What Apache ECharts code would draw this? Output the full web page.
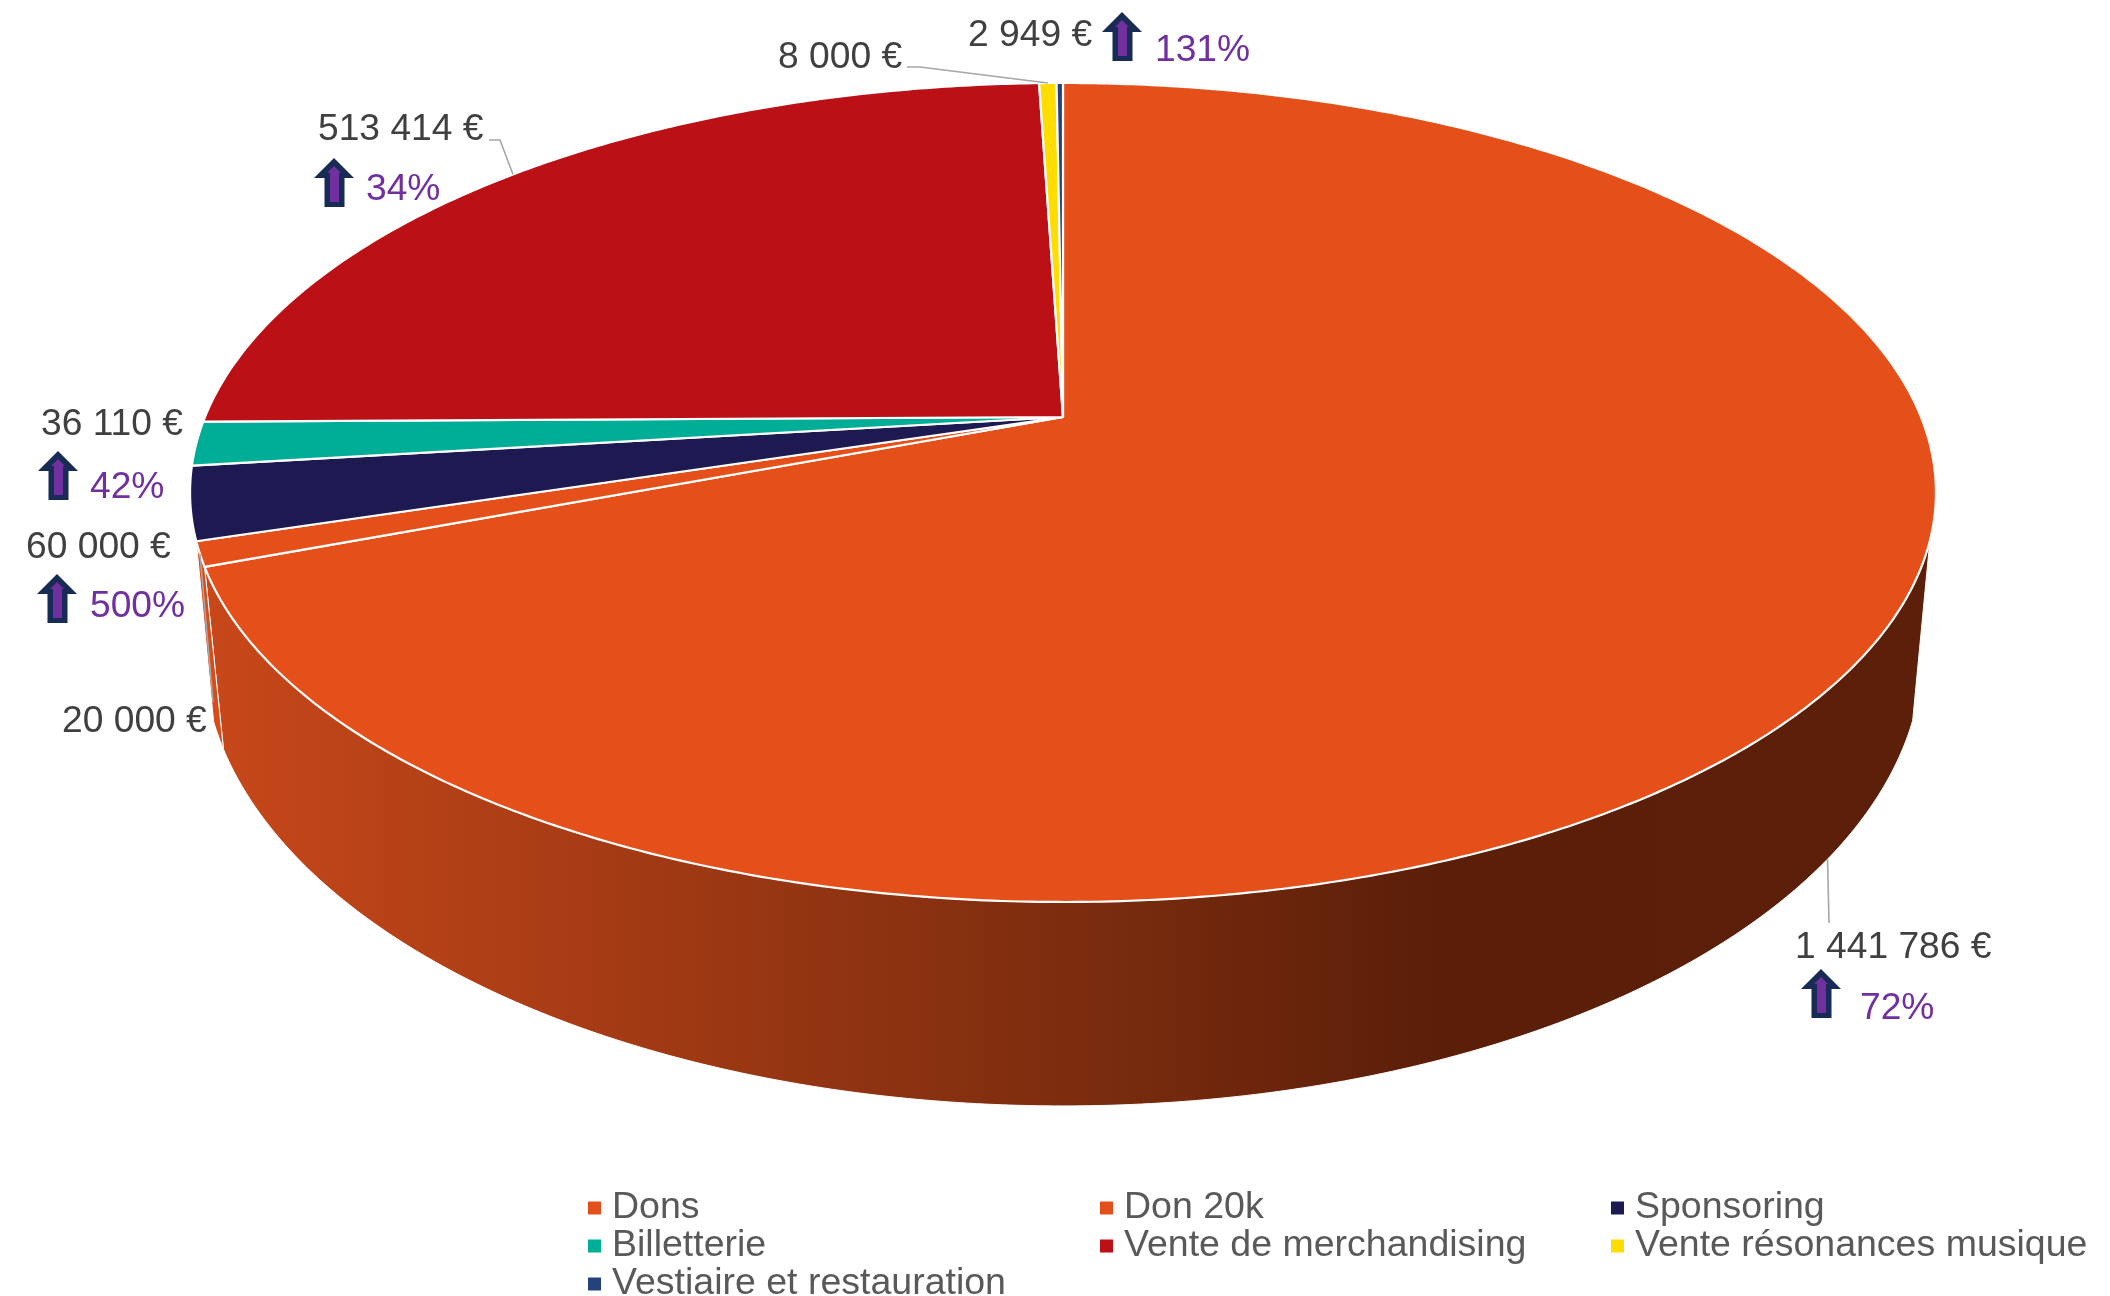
<html>

<head>
    <meta charset="utf-8">
    <script src="https://cdn.jsdelivr.net/npm/echarts@6/dist/echarts.min.js"></script>

    <style>
        html, body {
            margin: 0;
            height: 100%;
            background: #fff;
        }
        #chart {
            width: 100%;
            height: 100%;
        }
    </style>
</head>

<body>
    <div id="chart"></div>

    <script>
        const categories = ['Dons', 'Don 20k', 'Sponsoring', 'Billetterie', 'Vente de merchandising', 'Vente résonances musique', 'Vestiaire et restauration'];
        const amounts = [1441786, 20000, 60000, 36110, 513414, 8000, 2949];
        const growth = ['72%', null, '500%', '42%', '34%', null, '131%'];
        const sliceColors = ['#E5501A', '#E5501A', '#1D1A52', '#00AE98', '#BB1116', '#FFDD00', '#24437C'];

        // perspective of the two discs, fitted on the picture
        const FONT = 'Liberation Sans, Arial, sans-serif';
        const topDisc = { x: 1063, y: 417, a: 858, b: 395.6, k: 0.1843 };
        const bottomDisc = { x: 1063, y: 583, a: 850, b: 444.5, k: 0.15 };
        const WALL_FROM = 107.2;
        const WALL_TO = 252.7;

        const labelSpots = [
            { value: [1795, 958], arrow: [1801, 969], pct: [1860, 1019] },
            { value: [62, 732] },
            { value: [26, 558], arrow: [37, 574], pct: [90, 617] },
            { value: [41, 435], arrow: [38, 451], pct: [90, 498] },
            { value: [318, 140], arrow: [314, 158], pct: [366, 200] },
            { value: [778, 68] },
            { value: [968, 46], arrow: [1102, 12], pct: [1155, 61] }
        ];
        const leaders = [
            { disc: bottomDisc, via: [[1829, 923]] },
            { disc: topDisc, via: [[213, 702]] },
            null,
            null,
            { disc: topDisc, via: [[489, 140], [500, 140]] },
            { disc: topDisc, via: [[907, 67], [920, 67]] },
            null
        ];

        const total = amounts.reduce((a, b) => a + b, 0);
        const project = (disc, deg) => {
            const t = deg * Math.PI / 180;
            const u = Math.sin(t);
            const v = Math.cos(t);
            const w = 1 + disc.k * v;
            return [disc.x + disc.a * u / w, disc.y - disc.b * v / w];
        };
        const arc = (disc, from, to) => {
            const n = Math.max(2, Math.ceil(Math.abs(to - from) * 2));
            const pts = [];
            for (let i = 0; i <= n; i++) {
                pts.push(project(disc, from + (to - from) * i / n));
            }
            return pts;
        };
        const angleRange = (idx) => {
            const before = amounts.slice(0, idx).reduce((a, b) => a + b, 0);
            return [before / total * 360, (before + amounts[idx]) / total * 360];
        };
        const money = (v) => String(v).replace(/\B(?=(\d{3})+$)/g, ' ') + ' €';
        const textEl = (x, baseline, text, fill) => ({
            type: 'text',
            z2: 50,
            style: { x: x, y: baseline - 10.5, text: text, fill: fill, font: '37.2px ' + FONT, align: 'left', verticalAlign: 'middle' }
        });
        const arrowEls = (x, y) => [
            {
                type: 'polygon',
                z2: 40,
                shape: { points: [[x + 20, y], [x + 40, y + 20], [x + 30.5, y + 20], [x + 30.5, y + 49], [x + 10.5, y + 49], [x + 10.5, y + 20], [x, y + 20]] },
                style: { fill: '#172B55' }
            },
            {
                type: 'polygon',
                z2: 41,
                shape: { points: [[x + 20, y + 8], [x + 27, y + 15], [x + 25, y + 15], [x + 25, y + 44], [x + 16, y + 44], [x + 16, y + 15], [x + 13, y + 15]] },
                style: { fill: '#7030A0' }
            }
        ];
        const wallFill = (idx) => ({
            type: 'linear',
            global: true,
            x: 190, y: 0, x2: 1935, y2: 0,
            colorStops: [
                { offset: 0, color: idx === 1 ? '#DC4C19' : '#C9481A' },
                { offset: 0.52, color: '#7A2C0E' },
                { offset: 0.72, color: '#5A1E09' },
                { offset: 1, color: '#5B1F0A' }
            ]
        });

        const renderSlice = (params, api) => {
            const idx = params.seriesIndex;
            const [from, to] = angleRange(idx);
            const value = api.value(0);
            const children = [];

            // side of the cake, only the part facing the viewer
            const wallA = Math.max(from, WALL_FROM);
            const wallB = Math.min(to, WALL_TO);
            if (wallB - wallA > 0.1) {
                children.push({
                    type: 'polygon',
                    z2: 1,
                    shape: { points: arc(topDisc, wallA, wallB).concat(arc(bottomDisc, wallB, wallA)) },
                    style: { fill: wallFill(idx), stroke: '#fff', lineWidth: 1 }
                });
            }

            // top face
            children.push({
                type: 'polygon',
                z2: 10,
                shape: { points: [[topDisc.x, topDisc.y]].concat(arc(topDisc, from, to)) },
                style: { fill: sliceColors[idx], stroke: '#fff', lineWidth: 2.2, lineJoin: 'round' }
            });

            const spot = labelSpots[idx];
            children.push(textEl(spot.value[0], spot.value[1], money(value), '#404040'));
            if (spot.arrow) {
                children.push(...arrowEls(spot.arrow[0], spot.arrow[1]));
                children.push(textEl(spot.pct[0], spot.pct[1], growth[idx], '#7030A0'));
            }

            const leader = leaders[idx];
            if (leader) {
                children.push({
                    type: 'polyline',
                    z2: 30,
                    shape: { points: leader.via.concat([project(leader.disc, (from + to) / 2)]) },
                    style: { fill: null, stroke: '#A6A6A6', lineWidth: 1.6 }
                });
            }
            return { type: 'group', children: children };
        };

        const legendBase = {
            orient: 'vertical',
            top: 1189,
            height: 107,
            padding: 0,
            itemGap: 0,
            itemWidth: 13,
            itemHeight: 13,
            icon: 'rect',
            textStyle: { color: '#595959', fontSize: 37.5, fontFamily: FONT, lineHeight: 36.8, padding: [0, 0, 0, 6] }
        };

        const chart = echarts.init(document.getElementById('chart'), null, { renderer: 'canvas' });
        chart.setOption({
            animation: false,
            backgroundColor: '#fff',
            legend: [
                Object.assign({}, legendBase, { left: 588, height: 130, data: ['Dons', 'Billetterie', 'Vestiaire et restauration'] }),
                Object.assign({}, legendBase, { left: 1100, data: ['Don 20k', 'Vente de merchandising'] }),
                Object.assign({}, legendBase, { left: 1611, data: ['Sponsoring', 'Vente résonances musique'] })
            ],
            series: categories.map((name, i) => ({
                type: 'custom',
                name: name,
                coordinateSystem: 'none',
                itemStyle: { color: sliceColors[i] },
                renderItem: renderSlice,
                data: [[amounts[i]]]
            }))
        });
    </script>
</body>

</html>
